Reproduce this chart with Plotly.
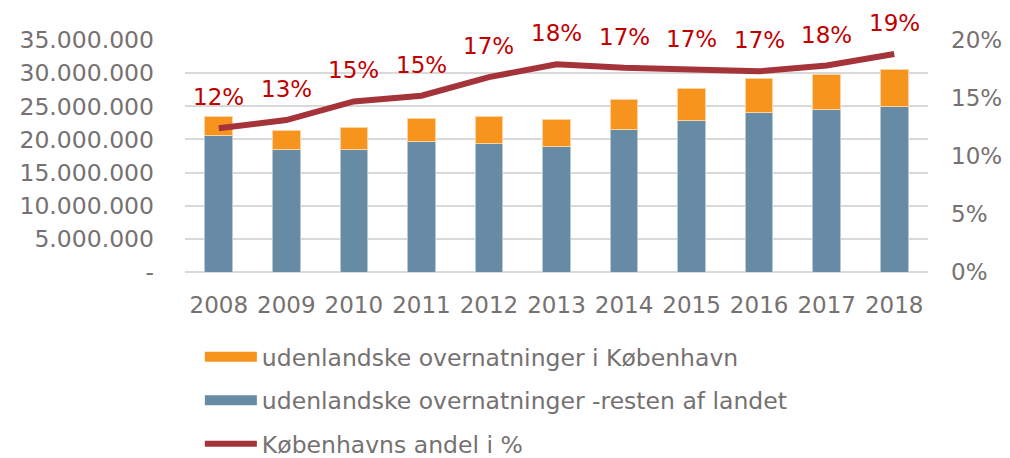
import plotly.graph_objects as go

years = [2008, 2009, 2010, 2011, 2012, 2013, 2014, 2015, 2016, 2017, 2018]
year_labels = ["2008", "2009", "2010", "2011", "2012", "2013", "2014", "2015", "2016", "2017", "2018"]
rest_of_country = [20.6e6, 18.5e6, 18.5e6, 19.7e6, 19.4e6, 18.9e6, 21.5e6, 22.9e6, 24.1e6, 24.5e6, 24.9e6]
copenhagen = [2.9e6, 2.9e6, 3.3e6, 3.5e6, 4.0e6, 4.1e6, 4.5e6, 4.8e6, 5.1e6, 5.3e6, 5.7e6]
share_pct = [12.4, 13.1, 14.7, 15.2, 16.8, 17.9, 17.6, 17.4, 17.3, 17.8, 18.8]
share_labels = ["12%", "13%", "15%", "15%", "17%", "18%", "17%", "17%", "17%", "18%", "19%"]

left_tickvals = [0, 5e6, 10e6, 15e6, 20e6, 25e6, 30e6, 35e6]
left_ticktext = ["-", "5.000.000", "10.000.000", "15.000.000", "20.000.000", "25.000.000", "30.000.000", "35.000.000"]
right_tickvals = [0, 5, 10, 15, 20]
right_ticktext = ["0%", "5%", "10%", "15%", "20%"]

names = ["udenlandske overnatninger i København",
         "udenlandske overnatninger -resten af landet",
         "Københavns andel i %"]

BLUE = "#678AA5"
ORANGE = "#F7941E"
RED = "#A5343A"
LABEL_RED = "#C00000"
GREY = "#767171"
FONT = "DejaVu Sans"

fig = go.Figure()
fig.add_trace(go.Bar(x=years, y=rest_of_country, marker=dict(color=BLUE, line=dict(color="#B8C9D6", width=1)),
                     showlegend=False, yaxis="y"))
fig.add_trace(go.Bar(x=years, y=copenhagen, marker=dict(color=ORANGE, line=dict(color="#FCD3A3", width=1)),
                     showlegend=False, yaxis="y"))
fig.add_trace(go.Scatter(x=years, y=share_pct, mode="lines", line=dict(color=RED, width=6),
                         showlegend=False, yaxis="y2"))

# legend entries
fig.add_trace(go.Scatter(x=years[:1], y=[None], mode="lines", name=names[0], line=dict(color=ORANGE, width=14),
                         legendrank=1, legendgroup="a", yaxis="y"))
fig.add_trace(go.Scatter(x=years[:1], y=[None], mode="lines", name=names[1], line=dict(color=BLUE, width=14),
                         legendrank=2, legendgroup="b", yaxis="y"))
fig.add_trace(go.Scatter(x=years[:1], y=[None], mode="lines", name=names[2], line=dict(color=RED, width=6),
                         legendrank=3, legendgroup="c", yaxis="y"))

for yr, v, lab in zip(years, share_pct, share_labels):
    fig.add_annotation(x=yr, y=v, xref="x", yref="y2", text=lab, showarrow=False,
                       yshift=31, font=dict(family=FONT, size=23, color=LABEL_RED))

fig.update_layout(
    width=1010, height=458,
    margin=dict(l=177, r=90, t=32, b=194, autoexpand=False),
    paper_bgcolor="white", plot_bgcolor="white",
    barmode="stack", bargap=0.59,
    font=dict(family=FONT, size=23, color=GREY),
    xaxis=dict(range=[years[0] - 0.5, years[-1] + 0.5], tickvals=years, ticktext=year_labels,
               showgrid=False, showline=False, zeroline=False, ticks="", ticklabelstandoff=17,
               tickfont=dict(size=23, color=GREY)),
    yaxis=dict(range=[0, 35e6], tickvals=left_tickvals, ticktext=left_ticktext, showgrid=True,
               gridcolor="#D9D9D9", gridwidth=1.5, zeroline=True, zerolinecolor="#D9D9D9", zerolinewidth=1.5,
               ticks="", ticklabelstandoff=30, tickfont=dict(size=23.5, color=GREY)),
    yaxis2=dict(range=[0, 20], overlaying="y", side="right", tickvals=right_tickvals, ticktext=right_ticktext,
                showgrid=False, zeroline=False, ticks="", ticklabelstandoff=22, tickfont=dict(size=23, color=GREY)),
    legend=dict(orientation="v", xref="paper", yref="paper", x=0.02, y=-0.2715,
                xanchor="left", yanchor="top", traceorder="grouped", tracegroupgap=10,
                font=dict(family=FONT, size=23.5, color=GREY), itemwidth=52, bgcolor="rgba(0,0,0,0)"),
)

fig.write_html("out.html")
